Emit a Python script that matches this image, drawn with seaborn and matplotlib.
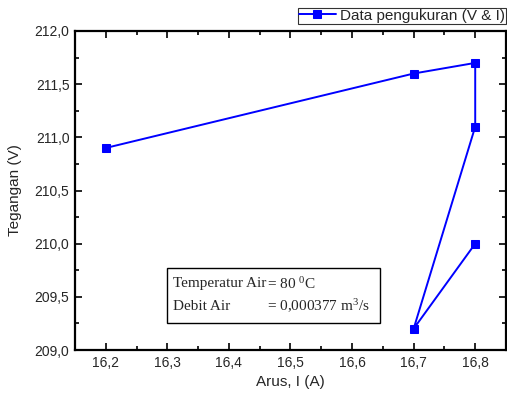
import matplotlib
matplotlib.use("Agg")
import matplotlib.pyplot as plt
import seaborn as sns
import pandas as pd
from matplotlib.ticker import MultipleLocator, FuncFormatter
from matplotlib.patches import Rectangle

arus = [16.2, 16.7, 16.8, 16.8, 16.7, 16.8]
tegangan = [210.9, 211.6, 211.7, 211.1, 209.2, 210.0]
series_label = "Data pengukuran (V & I)"
box_labels = ["Temperatur Air", "Debit Air"]
box_values = ["= 80 $^{0}$C", "= 0,000377 m$^{3}$/s"]

sns.set_style("ticks")
plt.rcParams['font.family'] = ['Liberation Sans', 'DejaVu Sans']
plt.rcParams['mathtext.fontset'] = 'custom'
plt.rcParams['mathtext.rm'] = 'Liberation Serif'
plt.rcParams['mathtext.it'] = 'Liberation Serif'

df = pd.DataFrame({"Arus": arus, "Tegangan": tegangan})

fig = plt.figure(figsize=(5.07, 4.01), dpi=100)
ax = fig.add_axes([75/507, 51/401, 431/507, 319/401])

sns.lineplot(data=df, x="Arus", y="Tegangan", sort=False, marker='s',
             color='#0000ff', markersize=6, linewidth=1.4,
             markeredgecolor='#0000ff', label=series_label, ax=ax, estimator=None)

ax.set_xlim(16.15, 16.85)
ax.set_ylim(209.0, 212.0)
ax.xaxis.set_major_locator(MultipleLocator(0.1))
ax.xaxis.set_minor_locator(MultipleLocator(0.05))
ax.yaxis.set_major_locator(MultipleLocator(0.5))
ax.yaxis.set_minor_locator(MultipleLocator(0.25))
comma1 = FuncFormatter(lambda v, p: f"{v:.1f}".replace('.', ','))
ax.xaxis.set_major_formatter(comma1)
ax.yaxis.set_major_formatter(comma1)
ax.tick_params(which='both', direction='in', top=True, right=True, width=1.2,
               labelsize=10, color='black')
ax.tick_params(which='major', length=5, pad=4)
ax.tick_params(which='minor', length=3)
for s in ax.spines.values():
    s.set_linewidth(1.6)
    s.set_color('black')

ax.set_xlabel("Arus, I (A)", fontsize=11, labelpad=4)
ax.set_ylabel("Tegangan (V)", fontsize=11, labelpad=9)

leg = ax.legend(loc='upper right', bbox_to_anchor=(506/507, 393/401),
                bbox_transform=fig.transFigure, frameon=True, fancybox=False,
                fontsize=11, handlelength=2.4, handletextpad=0.3,
                borderpad=0.05, borderaxespad=0)
leg.get_frame().set_edgecolor('black')
leg.get_frame().set_linewidth(0.8)

def fx(px):
    return (px - 75) / 431

def fy(py):
    return (350 - py) / 319

ax.add_patch(Rectangle((fx(167), fy(323)), fx(380) - fx(167), fy(268) - fy(323),
                       transform=ax.transAxes, facecolor='white',
                       edgecolor='black', linewidth=1.0, zorder=5))
for i, (lab, val) in enumerate(zip(box_labels, box_values)):
    yy = fy(284 + 22 * i)
    ax.text(fx(173), yy, lab, transform=ax.transAxes, fontsize=11,
            family='Liberation Serif', va='center', ha='left', zorder=6)
    ax.text(fx(267), yy, val, transform=ax.transAxes, fontsize=11,
            family='Liberation Serif', va='center', ha='left', zorder=6)

fig.savefig("out.png", dpi=100)
